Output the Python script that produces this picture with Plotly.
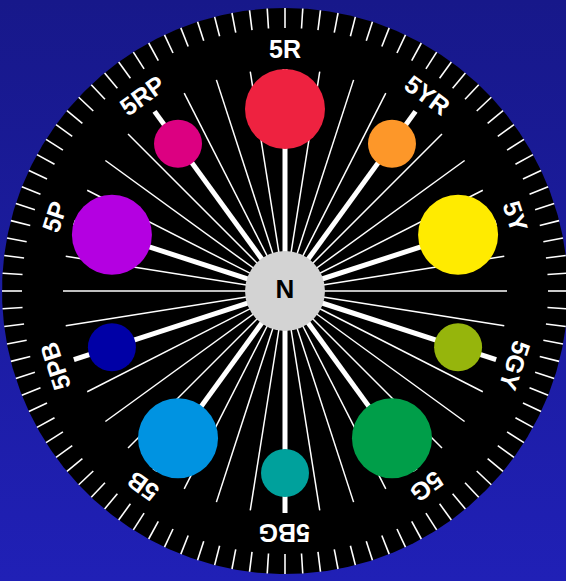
import numpy as np
import plotly.graph_objects as go

# ---- data ----
hue_names = ["5R", "5YR", "5Y", "5GY", "5G", "5BG", "5B", "5PB", "5P", "5RP"]
hue_angles = [0, 36, 72, 108, 144, 180, 216, 252, 288, 324]  # degrees clockwise from top
hue_colors = ["#ee2240", "#fd9729", "#ffeb00", "#96b50c", "#009e49",
              "#00a19c", "#0093e1", "#0000a6", "#b400e1", "#dc0081"]
hue_sizes = [80, 48, 80, 48, 80, 48, 80, 48, 80, 48]  # marker diameters (chroma)
minor_hue_angles = [a for a in range(0, 360, 9) if a % 36 != 0]  # 2.5/7.5/10 hues
tick_angles = list(np.arange(0, 360, 3.6))  # 100 hue ticks
neutral_label = "N"
neutral_color = "#d3d3d3"

# ---- geometry (layout constants) ----
R_DISC = 283
R_CIRCLE = 182
R_LINE = 222
R_LABEL = 242
R_TICK_IN, R_TICK_OUT = 263, 283
W, H = 566, 581
CX, CY = 285, 291  # pixel position of wheel centre


def pol(r, ang):
    a = np.deg2rad(np.asarray(ang, dtype=float))
    return r * np.sin(a), r * np.cos(a)


def segments(angles, r0, r1):
    xs, ys = [], []
    for a in angles:
        x0, y0 = pol(r0, a)
        x1, y1 = pol(r1, a)
        xs += [x0, x1, None]
        ys += [y0, y1, None]
    return xs, ys


fig = go.Figure()

# background gradient
xr = [-CX, W - CX]
yr = [-(H - CY), CY]
fig.add_trace(go.Scatter(
    x=[xr[0], xr[1], xr[1], xr[0], xr[0]], y=[yr[0], yr[0], yr[1], yr[1], yr[0]],
    mode="lines", line=dict(width=0), fill="toself",
    fillgradient=dict(type="vertical", start=yr[0], stop=yr[1],
                      colorscale=[[0, "#2020b6"], [1, "#17188a"]]),
    hoverinfo="skip", showlegend=False))

# black disc
t = np.linspace(0, 360, 721)
dx, dy = pol(R_DISC, t)
fig.add_trace(go.Scatter(x=dx, y=dy, mode="lines", line=dict(width=0, color="black"),
                         fill="toself", fillcolor="black", hoverinfo="skip", showlegend=False))

# edge ticks
tx, ty = segments(tick_angles, R_TICK_IN, R_TICK_OUT)
fig.add_trace(go.Scatter(x=tx, y=ty, mode="lines", line=dict(color="white", width=1.6),
                         hoverinfo="skip", showlegend=False))

# thin radial lines
mx, my = segments(minor_hue_angles, 0, R_LINE)
fig.add_trace(go.Scatter(x=mx, y=my, mode="lines", line=dict(color="white", width=1.5),
                         hoverinfo="skip", showlegend=False))

# thick radial lines
kx, ky = segments(hue_angles, 0, R_LINE)
fig.add_trace(go.Scatter(x=kx, y=ky, mode="lines", line=dict(color="white", width=5),
                         hoverinfo="skip", showlegend=False))

# hue circles
hx, hy = pol(R_CIRCLE, hue_angles)
fig.add_trace(go.Scatter(x=hx, y=hy, mode="markers",
                         marker=dict(size=hue_sizes, color=hue_colors, opacity=1,
                                     line=dict(width=0)),
                         text=hue_names, hoverinfo="text", showlegend=False))

# neutral centre
fig.add_trace(go.Scatter(x=[0], y=[0], mode="markers+text",
                         marker=dict(size=80, color=neutral_color, opacity=1, line=dict(width=0)),
                         text=["<b>" + neutral_label + "</b>"], textposition="middle center",
                         textfont=dict(family="Liberation Sans, Arial", size=26, color="black"),
                         hoverinfo="skip", showlegend=False))

# hue labels
lx, ly = pol(R_LABEL, hue_angles)
for name, a, x, y in zip(hue_names, hue_angles, lx, ly):
    fig.add_annotation(x=x, y=y, text="<b>" + name + "</b>", showarrow=False,
                       textangle=a if a <= 180 else a - 360,
                       xanchor="center", yanchor="middle",
                       font=dict(family="Liberation Sans, Arial", size=25, color="white"))

fig.update_layout(
    width=W, height=H, margin=dict(l=0, r=0, t=0, b=0),
    paper_bgcolor="#1c1ca0", plot_bgcolor="rgba(0,0,0,0)",
    xaxis=dict(range=xr, visible=False, fixedrange=True),
    yaxis=dict(range=yr, visible=False, fixedrange=True),
    showlegend=False,
)

fig.write_html("out.html", config={"displayModeBar": False},
               post_script="document.body.style.margin='0';document.body.style.overflow='hidden';")
